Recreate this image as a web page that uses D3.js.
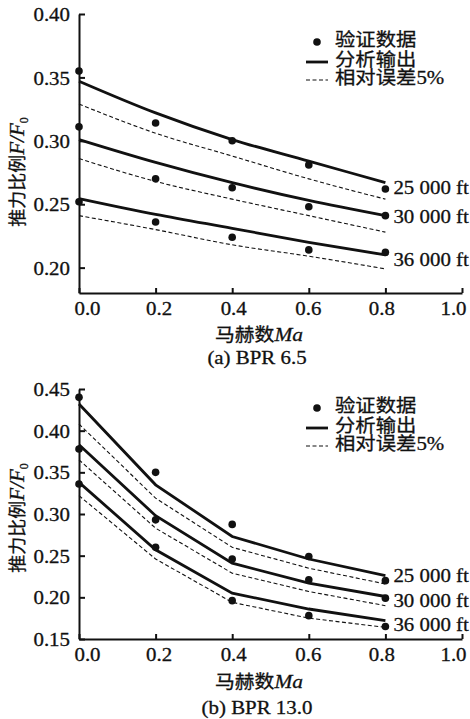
<!DOCTYPE html>
<html>
<head>
	<meta charset="utf-8">
	<title>推力比例</title>
	<script src="https://d3js.org/d3.v7.min.js"></script>
	<style>
		body { margin: 0; background: #fff; }
		text { stroke: #111; stroke-width: 0.3px; }
	</style>
</head>
<body>
	<div class="chart"></div>

	<script type="text/javascript">

		// 马赫数
		var mach = [0, 0.2, 0.4, 0.6, 0.8]
		var altitudes = ['25 000 ft', '30 000 ft', '36 000 ft']
		var legendNames = ['验证数据', '分析输出', '相对误差']

		// (a) BPR 6.5
		var testA = [
			[0.355, 0.314, 0.300, 0.281, 0.262],
			[0.311, 0.270, 0.263, 0.248, 0.241],
			[0.252, 0.236, 0.224, 0.214, 0.212]
		]
		var modelA = [
			[0.347, 0.322, 0.301, 0.284, 0.267],
			[0.301, 0.283, 0.267, 0.253, 0.241],
			[0.2545, 0.242, 0.231, 0.220, 0.210]
		]
		var errorA = [
			[0.329, 0.306, 0.288, 0.270, 0.254],
			[0.286, 0.268, 0.254, 0.241, 0.228],
			[0.241, 0.230, 0.218, 0.209, 0.199]
		]

		// (b) BPR 13.0
		var testB = [
			[0.440, 0.350, 0.2875, 0.249, 0.220],
			[0.378, 0.293, 0.246, 0.221, 0.199],
			[0.336, 0.260, 0.196, 0.178, 0.165]
		]
		var modelB = [
			[0.432, 0.335, 0.273, 0.246, 0.226],
			[0.383, 0.298, 0.241, 0.217, 0.201],
			[0.338, 0.257, 0.205, 0.186, 0.172]
		]
		var errorB = [
			[0.408, 0.319, 0.260, 0.235, 0.216],
			[0.365, 0.283, 0.229, 0.207, 0.190],
			[0.322, 0.246, 0.194, 0.175, 0.164]
		]

		var xTicks = [0, 0.2, 0.4, 0.6, 0.8, 1.0]
		var yTicksA = [0.20, 0.25, 0.30, 0.35, 0.40]
		var yTicksB = [0.15, 0.20, 0.25, 0.30, 0.35, 0.40, 0.45]

		var width = 470
		var height = 719
		var sx = 1.1 // 原图文字横向略宽
		var fs = 19
		var serif = '"Liberation Serif", "DejaVu Serif", serif'
		var cjk = '"Noto Sans CJK SC", sans-serif'
		var xLabelShift = [8, 3, 1, -1, -4, -9]

		var svg = d3
			.select('.chart')
			.append('svg')
			.attr('width', width)
			.attr('height', height)
			.style('background-color', '#fff')

		// 拉伸文字
		function stretchText(sel, x, y) {
			return sel.attr('x', 0).attr('y', 0)
				.attr('transform', `translate(${x}, ${y}) scale(${sx}, 1)`)
		}

		function drawPanel(opt) {
			var x = d3.scaleLinear().domain([0, 1]).range([79, 462])
			var y = d3.scaleLinear().domain(opt.yDomain).range(opt.yRange)
			var g = svg.append('g')

			// 坐标轴
			var yAxis = g.append('g')
				.attr('transform', `translate(${x(0)}, 0)`)
				.call(d3.axisLeft(y).tickValues(opt.yTicks).tickFormat(d3.format('.2f'))
					.tickSizeInner(-6).tickSizeOuter(0))
			var xAxis = g.append('g')
				.attr('transform', `translate(0, ${y.range()[0]})`)
				.call(d3.axisBottom(x).tickValues(xTicks).tickFormat(d3.format('.1f'))
					.tickSizeInner(-5).tickSizeOuter(0))

			g.selectAll('.domain, .tick line').attr('stroke', '#111').attr('stroke-width', 2)
			g.selectAll('.tick text')
				.attr('font-family', serif)
				.attr('font-size', fs)
				.attr('fill', '#111')
			yAxis.selectAll('.tick text')
				.attr('dy', '0.35em')
				.attr('x', -9 / sx)
				.attr('transform', `scale(${sx}, 1)`)
			xAxis.selectAll('.tick text')
				.attr('dy', '0.71em')
				.attr('y', 9)
				.attr('x', (d, i) => xLabelShift[i] / sx)
				.attr('transform', `scale(${sx}, 1)`)

			// 相对误差5% 虚线
			var line = d3.line()
				.x((d, i) => x(mach[i]))
				.y((d) => y(d))
				.curve(opt.curve)

			g.selectAll()
				.data(opt.error)
				.enter()
				.append('path')
				.attr('d', line)
				.attr('fill', 'none')
				.attr('stroke', '#111')
				.attr('stroke-width', 1.1)
				.attr('stroke-dasharray', '4,2.5')

			// 分析输出 实线
			g.selectAll()
				.data(opt.model)
				.enter()
				.append('path')
				.attr('d', line)
				.attr('fill', 'none')
				.attr('stroke', '#111')
				.attr('stroke-width', 2.8)

			// 验证数据
			opt.test.forEach(function(row) {
				g.selectAll()
					.data(row)
					.enter()
					.append('circle')
					.attr('cx', (d, i) => x(mach[i]))
					.attr('cy', (d) => y(d))
					.attr('r', 3.8)
					.attr('fill', '#111')
			})

			// 高度标注
			opt.test.forEach(function(row, k) {
				stretchText(g.append('text'), x(0.8) + 8, y(row[row.length - 1]) + opt.labelShift[k])
					.attr('dy', '0.35em')
					.attr('font-family', serif)
					.attr('font-size', fs)
					.attr('fill', '#111')
					.text(altitudes[k])
			})

			// 图例
			var rowY = [0, 20, 38]
			var lg = g.append('g').attr('transform', `translate(306, ${opt.legendTop})`)
			lg.append('circle').attr('cx', 11).attr('cy', rowY[0]).attr('r', 3.8).attr('fill', '#111')
			lg.append('line').attr('x1', 0).attr('x2', 22).attr('y1', rowY[1]).attr('y2', rowY[1])
				.attr('stroke', '#111').attr('stroke-width', 2.8)
			lg.append('line').attr('x1', 0).attr('x2', 22).attr('y1', rowY[2]).attr('y2', rowY[2])
				.attr('stroke', '#111').attr('stroke-width', 1.1).attr('stroke-dasharray', '4,2.5')
			legendNames.forEach(function(name, i) {
				var t = stretchText(lg.append('text'), 29 / 1, rowY[i] - 3)
					.attr('dy', '0.36em')
					.attr('font-family', cjk)
					.attr('font-size', 18.5)
					.attr('fill', '#111')
					.text(name)
				if (i === 2) {
					t.append('tspan').attr('font-family', serif).attr('font-size', fs).text('5%')
				}
			})

			// 纵轴标题
			var yt = g.append('text')
				.attr('transform', `translate(24, ${opt.yTitleY}) rotate(-90)`)
				.attr('text-anchor', 'middle')
				.attr('font-size', 18)
				.attr('fill', '#111')
			yt.append('tspan').attr('font-family', cjk).text('推力比例')
			yt.append('tspan').attr('font-family', serif).attr('font-style', 'italic').attr('font-size', 21).text('F/F')
			yt.append('tspan').attr('font-family', serif).attr('font-size', 12).attr('dy', 4).text('0')

			// 横轴标题
			var xt = stretchText(g.append('text'), 259, opt.xTitleY)
				.attr('text-anchor', 'middle')
				.attr('font-size', 18)
				.attr('fill', '#111')
			xt.append('tspan').attr('font-family', cjk).text('马赫数')
			xt.append('tspan').attr('font-family', serif).attr('font-style', 'italic').attr('font-size', 19.5).text('Ma')

			// 子图标题
			stretchText(g.append('text'), 257, opt.captionY)
				.attr('text-anchor', 'middle')
				.attr('font-family', serif)
				.attr('font-size', fs)
				.attr('fill', '#111')
				.text(opt.caption)
		}

		drawPanel({
			yDomain: [0.18, 0.40],
			yRange: [293, 14],
			yTicks: yTicksA,
			test: testA,
			model: modelA,
			error: errorA,
			curve: d3.curveMonotoneX,
			labelShift: [-2, 1, 7],
			legendTop: 42,
			yTitleY: 172,
			xTitleY: 341,
			captionY: 364,
			caption: '(a) BPR 6.5'
		})

		drawPanel({
			yDomain: [0.15, 0.45],
			yRange: [639, 389],
			yTicks: yTicksB,
			test: testB,
			model: modelB,
			error: errorB,
			curve: d3.curveLinear,
			labelShift: [-5, 2, -2],
			legendTop: 408,
			yTitleY: 518,
			xTitleY: 688,
			captionY: 714,
			caption: '(b) BPR 13.0'
		})

	</script>
</body>
</html>
